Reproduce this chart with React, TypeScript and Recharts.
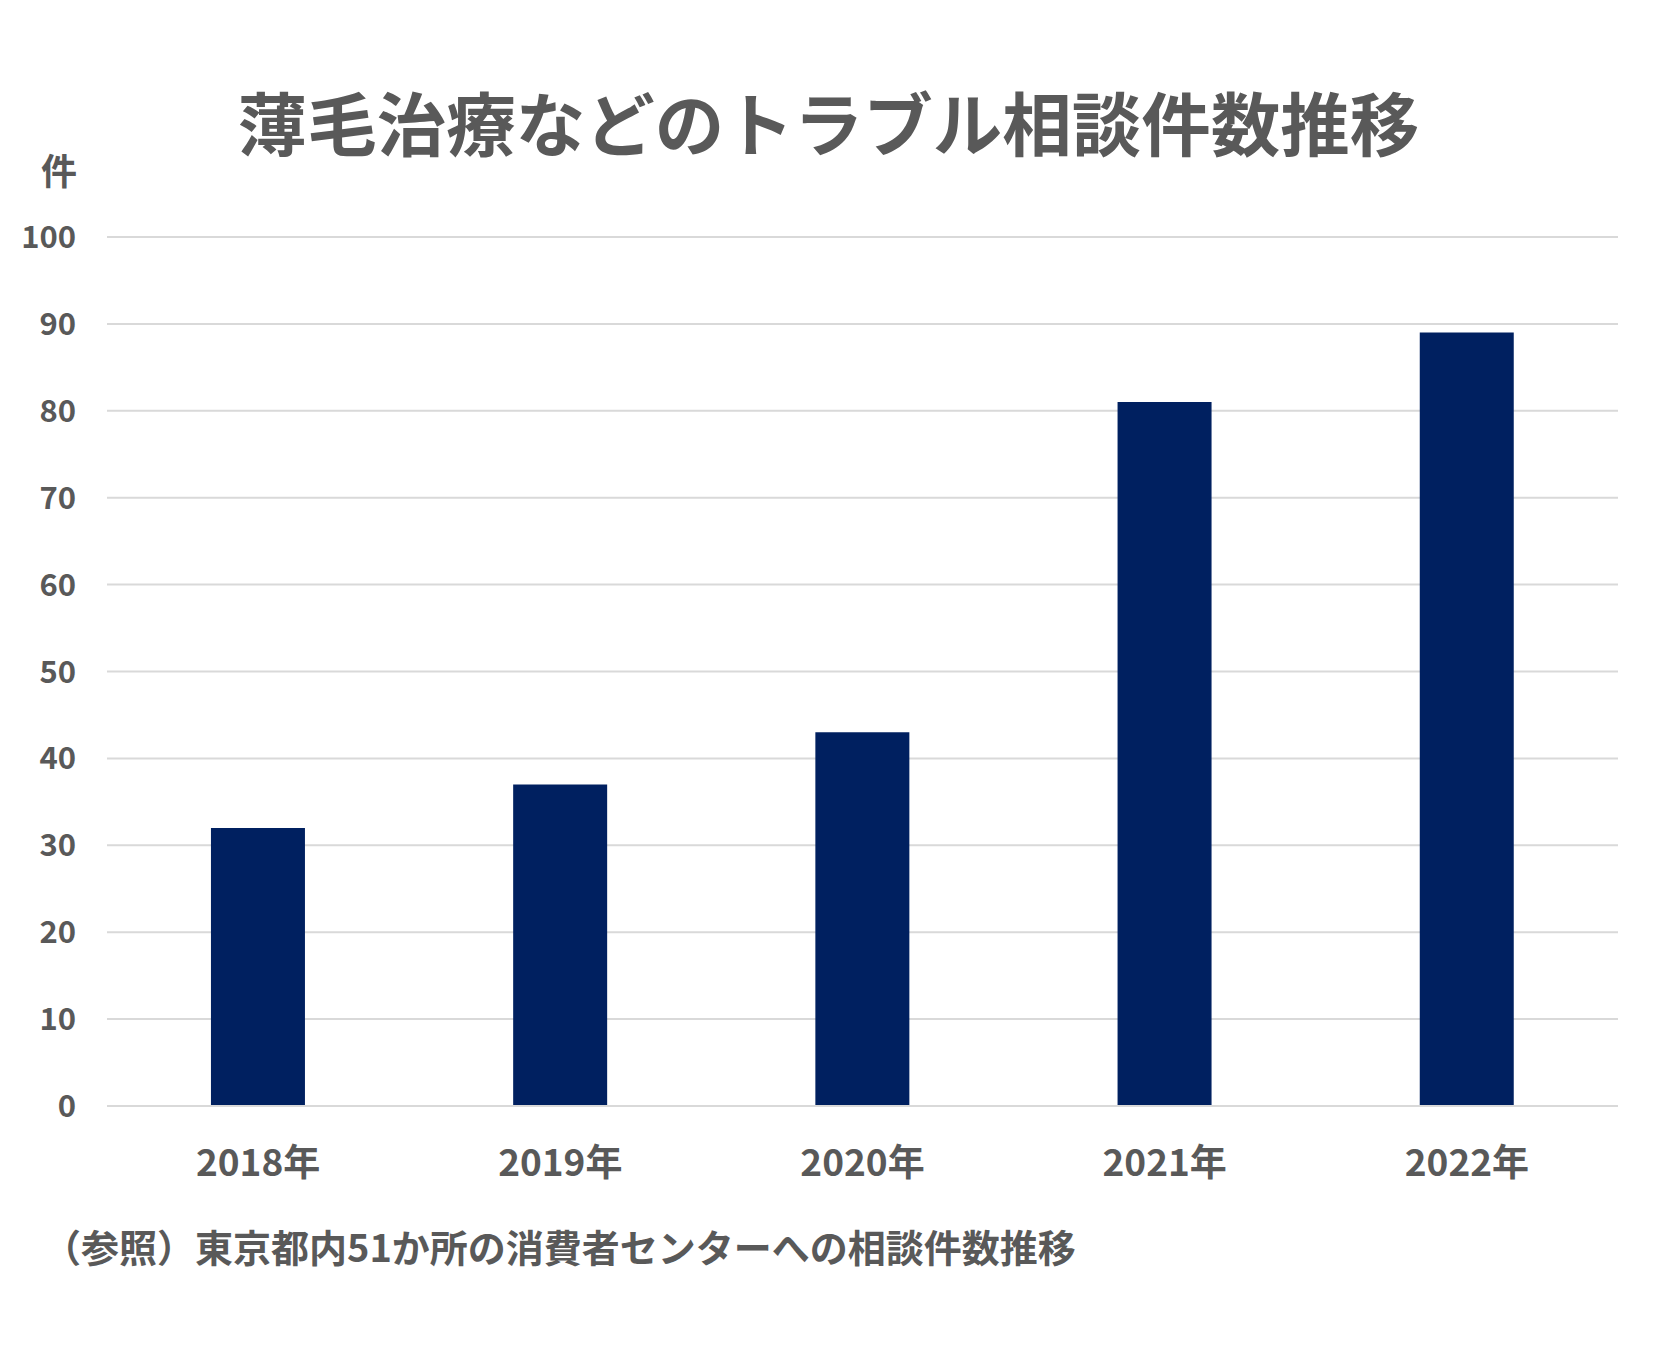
import React from "react";
import { BarChart, Bar, XAxis, YAxis, CartesianGrid } from "recharts";

const years = ["2018年", "2019年", "2020年", "2021年", "2022年"];
const counts = [32, 37, 43, 81, 89];
const yTicks = [0, 10, 20, 30, 40, 50, 60, 70, 80, 90, 100];

const title = "薄毛治療などのトラブル相談件数推移";
const unitLabel = "件";
const note = "（参照）東京都内51か所の消費者センターへの相談件数推移";

const font = "'Noto Sans CJK JP', 'Noto Sans', sans-serif";
const gray = "#595959";

export default function App() {
  const data = years.map((y, i) => ({ year: y, count: counts[i] }));
  return (
    <div style={{ position: "absolute", left: 0, top: 0, width: 1657, height: 1350, background: "#fff", fontFamily: font }}>
      <div style={{ position: "absolute", left: 0, top: 86, width: 1657, textAlign: "center", fontSize: 69.5, fontWeight: 700, lineHeight: 1, color: gray }}>
        {title}
      </div>
      <div style={{ position: "absolute", left: 41, top: 151, fontSize: 36, fontWeight: 700, lineHeight: 1, color: gray }}>
        {unitLabel}
      </div>
      <BarChart
        width={1657}
        height={1350}
        data={data}
        margin={{ top: 237, right: 39, bottom: 0, left: 0 }}
        barCategoryGap="34.4%"
      >
        <CartesianGrid vertical={false} stroke="#d9d9d9" strokeWidth={2} />
        <YAxis
          domain={[0, 100]}
          ticks={yTicks}
          width={107}
          axisLine={false}
          tickLine={false}
          tickSize={0}
          tickMargin={31}
          tick={{ fill: gray, fontSize: 31, fontWeight: 700, fontFamily: font }}
        />
        <XAxis
          dataKey="year"
          axisLine={{ stroke: "#d9d9d9", strokeWidth: 2 }}
          tickLine={false}
          tickSize={0}
          tickMargin={44}
          height={244}
          tick={{ fill: gray, fontSize: 37, fontWeight: 700, fontFamily: font }}
        />
        <Bar dataKey="count" fill="#002060" isAnimationActive={false} />
      </BarChart>
      <div style={{ position: "absolute", left: 43, top: 1227, fontSize: 38, fontWeight: 700, lineHeight: 1, color: gray, whiteSpace: "nowrap" }}>
        {note}
      </div>
    </div>
  );
}
